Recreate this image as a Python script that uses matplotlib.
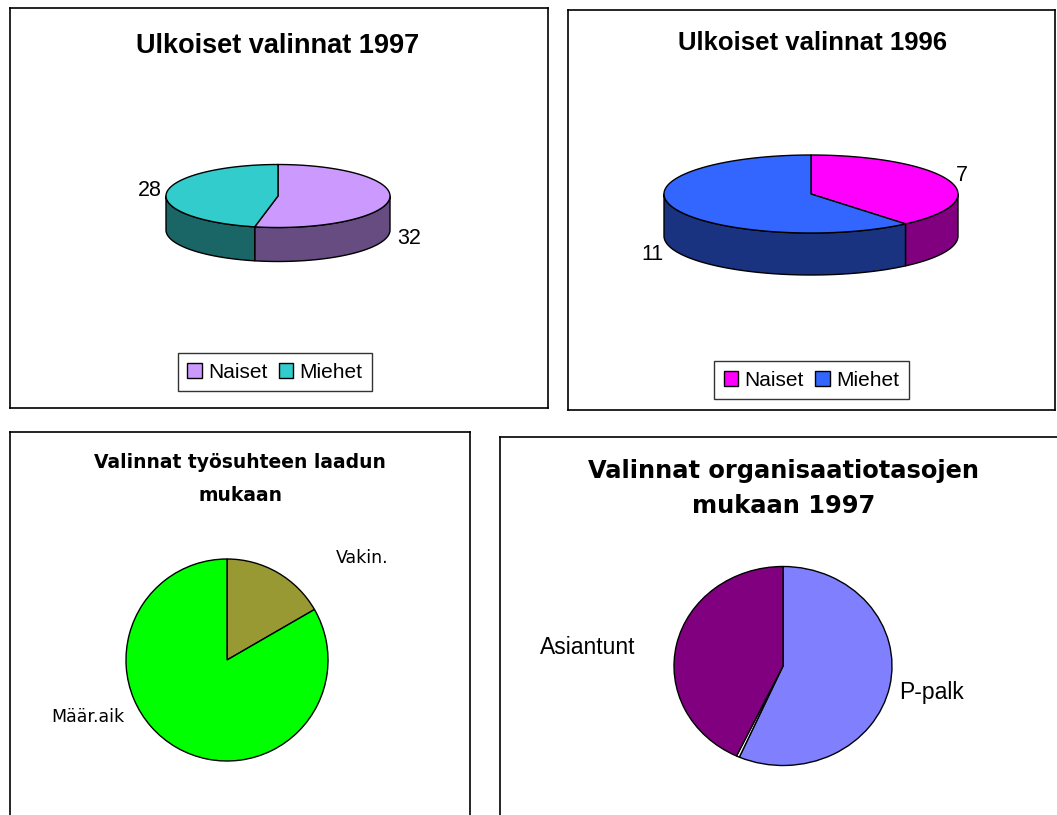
import matplotlib
matplotlib.use("Agg")
import matplotlib.pyplot as plt
import numpy as np
from matplotlib.patches import Polygon, Patch

plt.rcParams['font.family'] = ['Liberation Sans', 'DejaVu Sans']

# ---------------- data ----------------
p1_title = "Ulkoiset valinnat 1997"
p1_categories = ["Naiset", "Miehet"]
p1_values = [32, 28]
p1_top_colors = ["#CC99FF", "#33CCCC"]
p1_side_colors = ["#664C80", "#1A6666"]

p2_title = "Ulkoiset valinnat 1996"
p2_categories = ["Naiset", "Miehet"]
p2_values = [7, 11]
p2_top_colors = ["#FF00FF", "#3366FF"]
p2_side_colors = ["#800080", "#1A3380"]

p3_title_lines = ["Valinnat työsuhteen laadun", "mukaan"]
p3_categories = ["Vakin.", "Määr.aik"]
p3_values = [3, 15]
p3_colors = ["#999933", "#00FF00"]

p4_title_lines = ["Valinnat organisaatiotasojen", "mukaan 1997"]
p4_categories = ["P-palk", "", "Asiantunt"]
p4_values = [25, 0.2, 19]
p4_colors = ["#8080FF", "#FFFFFF", "#800080"]

# ---------------- figure ----------------
W, H = 1057, 815
fig = plt.figure(figsize=(W / 100, H / 100), dpi=100)
fig.patch.set_facecolor("white")
LW = 1.0


def panel(x0, y0, x1, y1):
    ax = fig.add_axes([x0 / W, 1 - y1 / H, (x1 - x0) / W, (y1 - y0) / H])
    ax.set_xlim(0, x1 - x0)
    ax.set_ylim(y1 - y0, 0)
    ax.set_xticks([])
    ax.set_yticks([])
    for s in ax.spines.values():
        s.set_linewidth(1.2)
        s.set_edgecolor("black")
    return ax


def pie3d(ax, values, tops, sides, cx, cy, rx, ry, depth):
    total = float(sum(values))
    ang = np.concatenate([[0.0], np.cumsum(values) / total * 360.0])

    def pts(a, b, dy=0.0):
        n = max(int(abs(b - a) * 2), 2)
        t = np.radians(np.linspace(a, b, n))
        return np.column_stack([cx + rx * np.sin(t), cy - ry * np.cos(t) + dy])

    for i in range(len(values)):
        s, e = max(ang[i], 90.0), min(ang[i + 1], 270.0)
        if e > s:
            poly = np.vstack([pts(s, e), pts(e, s, depth)])
            ax.add_patch(Polygon(poly, closed=True, fc=sides[i], ec="black",
                                 lw=LW, joinstyle="round"))
    for i in range(len(values)):
        poly = np.vstack([[cx, cy], pts(ang[i], ang[i + 1])])
        ax.add_patch(Polygon(poly, closed=True, fc=tops[i], ec="black",
                             lw=LW, joinstyle="round"))


def pie2d(x0, y0, x1, y1, values, colors):
    pad = 1.03
    cxp, cyp = (x0 + x1) / 2, (y0 + y1) / 2
    hw, hh = (x1 - x0) / 2 * pad, (y1 - y0) / 2 * pad
    ax = fig.add_axes([(cxp - hw) / W, 1 - (cyp + hh) / H, 2 * hw / W, 2 * hh / H])
    ax.pie(values, colors=colors, startangle=90, counterclock=False, radius=1,
           wedgeprops=dict(edgecolor="black", linewidth=LW))
    ax.set_aspect("auto")
    ax.set_xlim(-pad, pad)
    ax.set_ylim(-pad, pad)
    ax.axis("off")
    return ax


def legend(ax, cats, colors, fx, fy, size):
    handles = [Patch(facecolor=c, edgecolor="black", linewidth=1.0, label=l)
               for l, c in zip(cats, colors)]
    leg = ax.legend(handles=handles, loc="center", bbox_to_anchor=(fx, fy),
                    ncol=len(cats), frameon=True, fancybox=False,
                    edgecolor="black", prop={"family": "Liberation Sans", "size": size},
                    handlelength=0.7, handleheight=0.7, handletextpad=0.3,
                    columnspacing=0.55, borderpad=0.45, borderaxespad=0)
    leg.get_frame().set_linewidth(1.0)
    return leg


# ---------------- panel 1 ----------------
ax1 = panel(10, 8, 548, 408)
ax1.text(268, 45, p1_title, ha="center", va="baseline", fontsize=19.5,
         fontweight="bold")
pie3d(ax1, p1_values, p1_top_colors, p1_side_colors, 268, 188, 112, 31.5, 34)
ax1.text(140, 183, str(p1_values[1]), ha="center", va="center", fontsize=15.5)
ax1.text(399, 230, str(p1_values[0]), ha="center", va="center", fontsize=15.5)
legend(ax1, p1_categories, p1_top_colors, 265 / 538, 1 - 364 / 400, 15)

# ---------------- panel 2 ----------------
ax2 = panel(568, 10, 1055, 410)
ax2.text(244, 40, p2_title, ha="center", va="baseline", fontsize=18.5,
         fontweight="bold")
pie3d(ax2, p2_values, p2_top_colors, p2_side_colors, 243, 184, 147, 39, 42)
ax2.text(394, 166, str(p2_values[0]), ha="center", va="center", fontsize=15.5)
ax2.text(84, 245, str(p2_values[1]), ha="center", va="center", fontsize=15.5)
legend(ax2, p2_categories, p2_top_colors, 243.5 / 487, 1 - 370 / 400, 15)

# ---------------- panel 3 ----------------
ax3 = panel(10, 432, 470, 840)
ax3.text(230, 36, p3_title_lines[0], ha="center", va="baseline", fontsize=13.5,
         fontweight="bold", family="DejaVu Sans")
ax3.text(230, 69, p3_title_lines[1], ha="center", va="baseline", fontsize=13.5,
         fontweight="bold", family="DejaVu Sans")
pie2d(126, 559, 328, 761, p3_values, p3_colors)
ax3.text(352, 126, p3_categories[0], ha="center", va="center", fontsize=12.5,
         family="DejaVu Sans")
ax3.text(78, 285, p3_categories[1], ha="center", va="center", fontsize=12.5,
         family="DejaVu Sans")

# ---------------- panel 4 ----------------
ax4 = panel(500, 437, 1080, 840)
ax4.text(283.5, 41, p4_title_lines[0], ha="center", va="baseline", fontsize=17.4,
         fontweight="bold", family="DejaVu Sans")
ax4.text(283.5, 76, p4_title_lines[1], ha="center", va="baseline", fontsize=17.4,
         fontweight="bold", family="DejaVu Sans")
pie2d(674, 566.5, 892, 765.5, p4_values, p4_colors)
ax4.text(88, 210, p4_categories[2], ha="center", va="center", fontsize=16.5)
ax4.text(432, 256, p4_categories[0], ha="center", va="center", fontsize=16.5)

fig.savefig("out.png", dpi=100, facecolor="white")
